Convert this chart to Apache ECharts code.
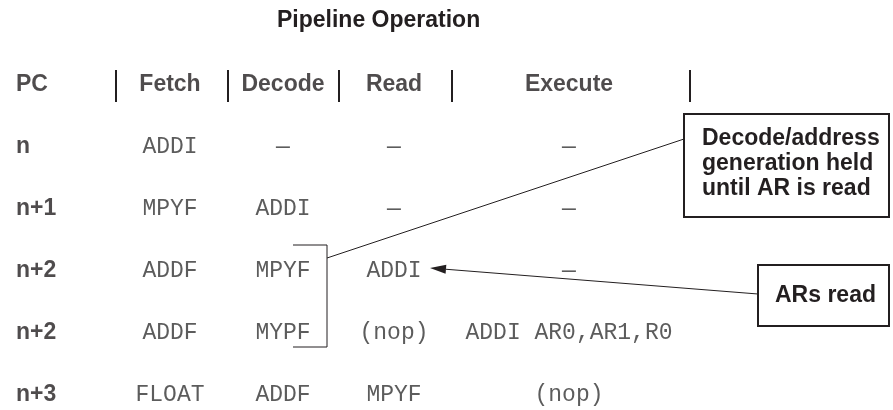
<!DOCTYPE html>
<html><head><meta charset="utf-8">
<script src="https://cdn.jsdelivr.net/npm/echarts@6/dist/echarts.min.js"></script>
<style>html,body{margin:0;padding:0;background:#fff}#c{width:893px;height:410px}</style>
</head><body><div id="c"></div>
<script>
// ---- data ----
const chartTitle = 'Pipeline Operation';
const columns = ['PC', 'Fetch', 'Decode', 'Read', 'Execute'];
const pcLabels = ['n', 'n+1', 'n+2', 'n+2', 'n+3'];
const fetchOps = ['ADDI', 'MPYF', 'ADDF', 'ADDF', 'FLOAT'];
const decodeOps = ['—', 'ADDI', 'MPYF', 'MYPF', 'ADDF'];
const readOps = ['—', '—', 'ADDI', '(nop)', 'MPYF'];
const executeOps = ['—', '—', '—', 'ADDI AR0,AR1,R0', '(nop)'];
const noteHeld = ['Decode/address', 'generation held', 'until AR is read'];
const noteRead = 'ARs read';

// ---- layout ----
const INK = '#231f20';
const SANS = '"Liberation Sans", Arial, Helvetica, sans-serif';
const MONO = '"Liberation Mono", "Courier New", monospace';
const colX = [16, 170, 283, 394, 569];
const sepX = [116, 228, 339, 452, 690];

const chart = echarts.init(document.getElementById('c'));

const opCols = [fetchOps, decodeOps, readOps, executeOps];
const headerData = columns.map((c, i) => ({
  name: c, value: [colX[i], 0],
  label: { align: i === 0 ? 'left' : 'center' }
}));
const pcData = pcLabels.map((p, r) => ({ name: p, value: [colX[0], r + 1] }));
const opData = [];
opCols.forEach((col, ci) => col.forEach((op, r) => {
  opData.push({ name: op, value: [colX[ci + 1], r + 1] });
}));

const baseLabel = { show: true, position: [0, 0], formatter: '{b}', verticalAlign: 'middle', color: INK };

chart.setOption({
  animation: false,
  backgroundColor: '#fff',
  title: {
    text: chartTitle, left: 277, top: 9, padding: 0,
    textStyle: { fontFamily: SANS, fontWeight: 'bold', fontSize: 23, color: INK, lineHeight: 24 }
  },
  grid: { left: 0, right: 0, top: 85, bottom: 15 },
  xAxis: { type: 'value', min: 0, max: 893, show: false },
  yAxis: { type: 'value', min: 0, max: 5, inverse: true, show: false },
  series: [
    {
      type: 'scatter', symbolSize: 0, data: headerData, silent: true,
      label: Object.assign({}, baseLabel, { fontFamily: SANS, fontWeight: 'bold', fontSize: 23 })
    },
    {
      type: 'scatter', symbolSize: 0, data: pcData, silent: true,
      label: Object.assign({}, baseLabel, { align: 'left', fontFamily: SANS, fontWeight: 'bold', fontSize: 23 })
    },
    {
      type: 'scatter', symbolSize: 0, data: opData, silent: true,
      label: Object.assign({}, baseLabel, { align: 'center', fontFamily: MONO, fontSize: 23, color: '#333' })
    }
  ]
});

// annotation geometry, derived from the grid
const px = (x, r) => chart.convertToPixel({ gridIndex: 0 }, [x, r]);
const rowY = r => px(0, r)[1];
const g = [];
const line = (x1, y1, x2, y2, w) => g.push({
  type: 'line', shape: { x1, y1, x2, y2 }, style: { stroke: INK, lineWidth: w }, silent: true
});
// header separators
sepX.forEach(x => line(x, rowY(0) - 15, x, rowY(0) + 17, 2));
// bracket around stalled decode
const bx = 327, bl = 293, bt = rowY(3) - 26, bb = rowY(4) + 14;
g.push({ type: 'polyline', shape: { points: [[bl, bt], [bx, bt], [bx, bb], [bl, bb]] },
  style: { stroke: INK, lineWidth: 1, fill: null }, silent: true });
// note boxes
const b1 = { x: 684, y: 114, w: 205, h: 103 };
const b2 = { x: 758, y: 265, w: 131, h: 61 };
[b1, b2].forEach(b => g.push({ type: 'rect', shape: { x: b.x, y: b.y, width: b.w, height: b.h },
  style: { stroke: INK, lineWidth: 2, fill: '#fff' }, silent: true }));
g.push({ type: 'text', left: b1.x + 18, top: b1.y + 12,
  style: { text: noteHeld.join('\n'), font: 'bold 23px ' + SANS, lineHeight: 25, fill: INK } });
g.push({ type: 'text', style: { text: noteRead, x: b2.x + b2.w / 2 + 2, y: b2.y + b2.h / 2,
  align: 'center', verticalAlign: 'middle', font: 'bold 23px ' + SANS, fill: INK } });
// leader line from bracket to box 1
line(bx, bt + 13, b1.x, b1.y + 25, 1);
// arrow from box 2 to the read ADDI
const tip = [px(colX[3], 3)[0] + 36, rowY(3) - 3];
const from = [b2.x, b2.y + 29];
const dx = tip[0] - from[0], dy = tip[1] - from[1], L = Math.hypot(dx, dy);
const ux = dx / L, uy = dy / L, hl = 16, hw = 4.5;
const base = [tip[0] - ux * hl, tip[1] - uy * hl];
line(from[0], from[1], base[0], base[1], 1);
g.push({ type: 'polygon', shape: { points: [tip, [base[0] - uy * hw, base[1] + ux * hw], [base[0] + uy * hw, base[1] - ux * hw]] },
  style: { fill: INK }, silent: true });

chart.setOption({ graphic: g });
</script>
</body></html>
